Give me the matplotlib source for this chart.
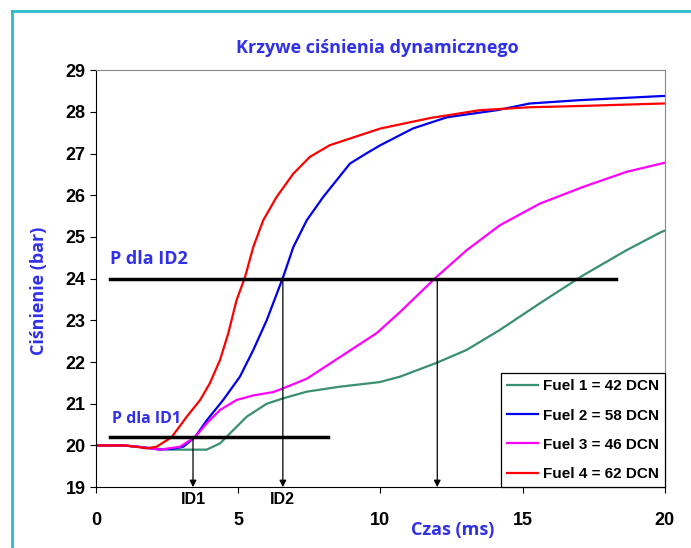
#!/usr/bin/env python
# krzywe cisnienia dynamicznego - fuel 1..4

import numpy as np
import matplotlib
matplotlib.use('Agg')
import matplotlib.pyplot as plt
from matplotlib.lines import Line2D

# data (time in ms, pressure in bar)
t1 = [0, 1, 1.6, 2.2, 2.72, 3.3, 3.89, 4.36, 4.71, 5.3, 6.0, 6.58, 7.41, 8.58, 9.98, 10.69, 11.97, 13.03, 14.2, 15.61, 17.13, 18.65, 19.88, 20]
p1 = [20.0, 20.0, 19.96, 19.92, 19.9, 19.9, 19.9, 20.05, 20.29, 20.69, 21.0, 21.13, 21.29, 21.41, 21.52, 21.65, 21.98, 22.29, 22.77, 23.41, 24.08, 24.68, 25.12, 25.15]

t2 = [0, 1, 1.6, 2.25, 2.7, 3.07, 3.48, 3.89, 4.47, 5.06, 5.53, 6.0, 6.58, 6.94, 7.41, 7.99, 8.46, 8.93, 9.5, 10.0, 11.14, 12.34, 14.1, 15.25, 17.0, 19.93, 20]
p2 = [20.0, 20.0, 19.96, 19.9, 19.92, 19.97, 20.2, 20.6, 21.09, 21.65, 22.29, 23.0, 24.04, 24.76, 25.4, 25.96, 26.36, 26.76, 27.0, 27.2, 27.6, 27.87, 28.04, 28.2, 28.28, 28.38, 28.38]

t3 = [0, 1, 1.6, 2.25, 2.95, 3.48, 3.89, 4.36, 4.94, 5.53, 6.23, 6.58, 7.41, 8.58, 9.88, 10.69, 11.97, 13.03, 14.2, 15.61, 17.13, 18.65, 19.88, 20]
p3 = [20.0, 20.0, 19.96, 19.9, 19.97, 20.2, 20.53, 20.85, 21.09, 21.2, 21.28, 21.37, 21.6, 22.12, 22.7, 23.2, 24.04, 24.68, 25.28, 25.8, 26.2, 26.56, 26.76, 26.78]

t4 = [0, 1, 1.5, 1.78, 2.13, 2.66, 3.19, 3.66, 4.0, 4.36, 4.65, 4.94, 5.24, 5.53, 5.88, 6.35, 6.94, 7.52, 8.22, 8.93, 10.0, 11.74, 13.5, 15.25, 17.0, 19.93, 20]
p4 = [20.0, 20.0, 19.96, 19.93, 19.97, 20.2, 20.69, 21.09, 21.49, 22.05, 22.69, 23.48, 24.04, 24.76, 25.4, 25.96, 26.52, 26.92, 27.2, 27.36, 27.6, 27.85, 28.04, 28.11, 28.14, 28.2, 28.2]

labels = ['Fuel 1 = 42 DCN', 'Fuel 2 = 58 DCN', 'Fuel 3 = 46 DCN', 'Fuel 4 = 62 DCN']
colors = ['#3a8f6e', '#0000ee', '#ff00ff', '#ff0000']

p_id1 = 20.2
p_id2 = 24.0
id1_x = 3.41
id2_x = 6.57
id3_x = 12.0

txt_blue = '#3030e8'
frame_col = '#2bbccc'

plt.rcParams['font.family'] = ['Liberation Sans', 'DejaVu Sans']

fig = plt.figure(figsize=(6.91, 5.48), dpi=100)
ax = fig.add_axes([0.139, 0.111, 0.823, 0.761])

# outer frame (only top and left visible)
fig.add_artist(Line2D([0.017, 0.017], [0.0, 0.98], transform=fig.transFigure, color=frame_col, lw=2))
fig.add_artist(Line2D([0.017, 1.0], [0.98, 0.98], transform=fig.transFigure, color=frame_col, lw=2))

for t, p, c, lab in zip([t1, t2, t3, t4], [p1, p2, p3, p4], colors, labels):
    ax.plot(t, p, color=c, linewidth=1.6, label=lab, solid_joinstyle='round')

# horizontal pressure levels
ax.plot([0.5, 8.15], [p_id1, p_id1], color='black', linewidth=2.5)
ax.plot([0.5, 18.3], [p_id2, p_id2], color='black', linewidth=2.5)

# arrows down to time axis
for xa, ya in [(id1_x, p_id1), (id2_x, p_id2), (id3_x, p_id2)]:
    ax.annotate('', xy=(xa, 19.0), xytext=(xa, ya),
                arrowprops=dict(arrowstyle='-|>', color='black', lw=0.9,
                                mutation_scale=10, shrinkA=0, shrinkB=0))

ax.text(0.5, 24.35, 'P dla ID2', color=txt_blue, fontsize=13, fontweight='bold', family='Open Sans')
ax.text(0.55, 20.55, 'P dla ID1', color=txt_blue, fontsize=11.5, fontweight='bold', family='Open Sans')

ax.set_xlim(0, 20)
ax.set_ylim(19, 29)
ax.set_xticks([0, 5, 10, 15, 20])
ax.set_yticks(range(19, 30))
ax.tick_params(axis='both', direction='out', length=4, labelsize=13)
ax.tick_params(axis='x', pad=14)
for lab in ax.get_xticklabels() + ax.get_yticklabels():
    lab.set_fontweight('bold')

trans = ax.get_xaxis_transform()
ax.text(id1_x, -0.03, 'ID1', transform=trans, ha='center', va='center', fontsize=11.5, fontweight='bold')
ax.text(id2_x, -0.03, 'ID2', transform=trans, ha='center', va='center', fontsize=11.5, fontweight='bold')

ax.spines['top'].set_color('#888888')
ax.spines['right'].set_color('#888888')

ax.set_title('Krzywe ciśnienia dynamicznego', color=txt_blue, fontsize=13, fontweight='bold',
             family='Open Sans', pad=12, x=0.495)
ax.set_xlabel('Czas (ms)', color=txt_blue, fontsize=13, fontweight='bold', family='Open Sans')
ax.xaxis.set_label_coords(0.627, -0.08)
ax.set_ylabel('Ciśnienie (bar)', color=txt_blue, fontsize=13, fontweight='bold', family='Open Sans')
ax.yaxis.set_label_coords(-0.085, 0.47)

leg = ax.legend(loc='lower right', borderaxespad=0, fancybox=False, framealpha=1,
                edgecolor='black', prop={'weight': 'bold', 'size': 11},
                handlelength=2.0, handletextpad=0.3, labelspacing=1.0)
leg.get_frame().set_linewidth(0.9)

fig.savefig('out.png', dpi=100)
print('Output to "out.png"!')
